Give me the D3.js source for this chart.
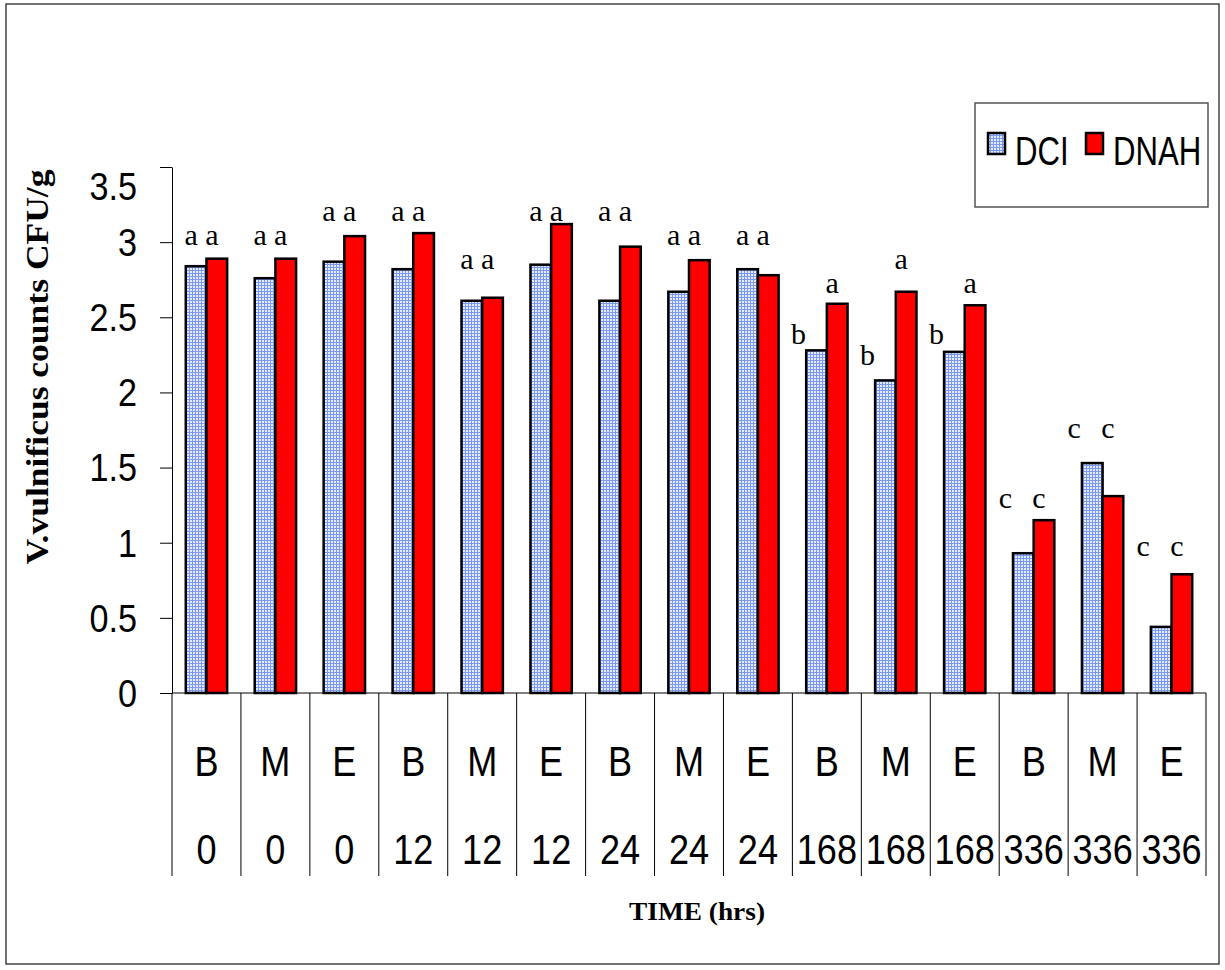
<!DOCTYPE html>
<html>
<head>
<meta charset="utf-8">
<script src="https://cdn.jsdelivr.net/npm/d3@7"></script>
<style>
  body { margin: 0; background: #fff; }
</style>
</head>
<body>
<script>
var fullWidth = 1225
var fullHeight = 970

// data
var phases = ['B', 'M', 'E', 'B', 'M', 'E', 'B', 'M', 'E', 'B', 'M', 'E', 'B', 'M', 'E']
var hours = ['0', '0', '0', '12', '12', '12', '24', '24', '24', '168', '168', '168', '336', '336', '336']
var dci = [2.84, 2.76, 2.87, 2.82, 2.61, 2.85, 2.61, 2.67, 2.82, 2.28, 2.08, 2.27, 0.93, 1.53, 0.44]
var dnah = [2.89, 2.89, 3.04, 3.06, 2.63, 3.12, 2.97, 2.88, 2.78, 2.59, 2.67, 2.58, 1.15, 1.31, 0.79]
var dciLetters = ['a', 'a', 'a', 'a', 'a', 'a', 'a', 'a', 'a', 'b', 'b', 'b', 'c', 'c', 'c']
var dnahLetters = ['a', 'a', 'a', 'a', 'a', 'a', 'a', 'a', 'a', 'a', 'a', 'a', 'c', 'c', 'c']
// height (in y units) where each letter sits
var dciLetterLevel = [3.02, 3.02, 3.18, 3.18, 2.86, 3.18, 3.18, 3.02, 3.02, 2.36, 2.22, 2.36, 1.27, 1.74, 0.95]
var dnahLetterLevel = [3.02, 3.02, 3.18, 3.18, 2.86, 3.18, 3.18, 3.02, 3.02, 2.70, 2.86, 2.70, 1.27, 1.74, 0.95]
var yTicks = [0, 0.5, 1, 1.5, 2, 2.5, 3, 3.5]
var seriesNames = ['DCI', 'DNAH']

var plot = { left: 172, right: 1206, top: 167, bottom: 693 }

var svg = d3
  .select('body')
  .append('svg')
  .attr('xmlns', 'http://www.w3.org/2000/svg')
  .attr('width', fullWidth)
  .attr('height', fullHeight)

// blue grid pattern for the DCI bars
var defs = svg.append('defs')
var pat = defs.append('pattern')
  .attr('id', 'grid')
  .attr('width', 3)
  .attr('height', 3)
  .attr('patternUnits', 'userSpaceOnUse')
pat.append('rect').attr('width', 3).attr('height', 3).attr('fill', '#e4ebff')
pat.append('rect').attr('width', 3).attr('height', 1).attr('fill', '#7b98f2')
pat.append('rect').attr('width', 1).attr('height', 3).attr('fill', '#7b98f2')

// outer frame
svg.append('rect')
  .attr('x', 6).attr('y', 4)
  .attr('width', 1213).attr('height', 960)
  .attr('fill', 'none')
  .attr('stroke', '#444')
  .attr('stroke-width', 1.5)

var idx = d3.range(phases.length)

var x = d3.scaleBand()
  .domain(idx)
  .range([plot.left, plot.right])
  .paddingInner(0.4)
  .paddingOuter(0.2)

var xs = d3.scaleBand()
  .domain(seriesNames)
  .range([0, x.bandwidth()])

var y = d3.scaleLinear()
  .domain([0, 3.5])
  .range([plot.bottom, plot.top])

var labelFont = 'Liberation Sans, Arial, sans-serif'

// y axis
var yAxis = d3.axisLeft(y)
  .tickValues(yTicks)
  .tickFormat(d3.format('~g'))
  .tickSizeInner(12)
  .tickSizeOuter(0)
  .tickPadding(23)

var yG = svg.append('g')
  .attr('transform', 'translate(' + plot.left + ',0)')
  .call(yAxis)
yG.select('.domain').attr('stroke', '#000').attr('stroke-width', 1)
yG.selectAll('.tick line').attr('stroke', '#000').attr('stroke-width', 1)
yG.selectAll('.tick text')
  .attr('fill', '#000')
  .attr('x', null)
  .attr('transform', 'translate(-35,0) scale(0.9,1)')
  .style('font-family', labelFont)
  .style('font-size', '38px')
  .attr('dy', function (d) { return d === 3.5 ? '0.85em' : '0.35em' })

// x axis line and category dividers
var step = x.step()
var x0 = x(0) - step * 0.2
svg.append('line')
  .attr('x1', plot.left).attr('x2', plot.right)
  .attr('y1', plot.bottom).attr('y2', plot.bottom)
  .attr('stroke', '#000').attr('stroke-width', 1)

svg.append('g')
  .selectAll('line')
  .data(d3.range(phases.length + 1))
  .join('line')
  .attr('x1', function (i) { return x0 + i * step })
  .attr('x2', function (i) { return x0 + i * step })
  .attr('y1', plot.bottom)
  .attr('y2', 876)
  .attr('stroke', '#000')
  .attr('stroke-width', 1)

function catLabel(arr, yy) {
  svg.append('g')
    .selectAll('text')
    .data(idx)
    .join('text')
    .attr('transform', function (i) {
      var cx = x(i) + x.bandwidth() / 2
      return 'translate(' + cx + ',' + yy + ') scale(0.84,1)'
    })
    .attr('text-anchor', 'middle')
    .style('font-family', labelFont)
    .style('font-size', '43px')
    .attr('fill', '#000')
    .text(function (i) { return arr[i] })
}
catLabel(phases, 776)
catLabel(hours, 864)

// bars
var barG = svg.append('g')
barG.selectAll('rect.dci')
  .data(idx)
  .join('rect')
  .attr('class', 'dci')
  .attr('x', function (i) { return x(i) + xs('DCI') })
  .attr('width', xs.bandwidth())
  .attr('y', function (i) { return y(dci[i]) })
  .attr('height', function (i) { return y(0) - y(dci[i]) })
  .attr('fill', 'url(#grid)')
  .attr('stroke', '#000')
  .attr('stroke-width', 2.5)

barG.selectAll('rect.dnah')
  .data(idx)
  .join('rect')
  .attr('class', 'dnah')
  .attr('x', function (i) { return x(i) + xs('DNAH') })
  .attr('width', xs.bandwidth())
  .attr('y', function (i) { return y(dnah[i]) })
  .attr('height', function (i) { return y(0) - y(dnah[i]) })
  .attr('fill', '#ff0000')
  .attr('stroke', '#000')
  .attr('stroke-width', 2.5)

// significance letters
var letterFont = 'Liberation Serif, Times New Roman, serif'
function letters(arr, levels, series) {
  svg.append('g')
    .selectAll('text')
    .data(idx)
    .join('text')
    .attr('x', function (i) {
      var off = -5
      if (series === 'DCI' && arr[i] !== 'a') off = -18
      return x(i) + xs(series) + xs.bandwidth() / 2 + off
    })
    .attr('y', function (i) { return y(levels[i]) + 6 })
    .attr('text-anchor', 'middle')
    .style('font-family', letterFont)
    .style('font-size', '30px')
    .attr('fill', '#000')
    .text(function (i) { return arr[i] })
}
letters(dciLetters, dciLetterLevel, 'DCI')
letters(dnahLetters, dnahLetterLevel, 'DNAH')

// axis titles
svg.append('text')
  .attr('transform', 'translate(48,367) rotate(-90)')
  .attr('text-anchor', 'middle')
  .style('font-family', letterFont)
  .style('font-weight', 'bold')
  .style('font-size', '31px')
  .attr('textLength', 395)
  .attr('lengthAdjust', 'spacingAndGlyphs')
  .text('V.vulnificus counts CFU/g')

svg.append('text')
  .attr('x', 697)
  .attr('y', 920)
  .attr('text-anchor', 'middle')
  .style('font-family', letterFont)
  .style('font-weight', 'bold')
  .style('font-size', '25px')
  .attr('textLength', 136)
  .attr('lengthAdjust', 'spacingAndGlyphs')
  .text('TIME (hrs)')

// legend
var leg = svg.append('g')
leg.append('rect')
  .attr('x', 975).attr('y', 103)
  .attr('width', 233).attr('height', 104)
  .attr('fill', '#fff')
  .attr('stroke', '#555')
  .attr('stroke-width', 1.5)

var legItems = [
  { name: seriesNames[0], fill: 'url(#grid)', sx: 988, tx: 1015 },
  { name: seriesNames[1], fill: '#ff0000', sx: 1086, tx: 1113 }
]
legItems.forEach(function (d) {
  leg.append('rect')
    .attr('x', d.sx).attr('y', 133)
    .attr('width', 17).attr('height', 21)
    .attr('fill', d.fill)
    .attr('stroke', '#000')
    .attr('stroke-width', 2.5)
  leg.append('text')
    .attr('transform', 'translate(' + d.tx + ',165) scale(0.76,1)')
    .style('font-family', labelFont)
    .style('font-size', '41px')
    .attr('fill', '#000')
    .text(d.name)
})
</script>
</body>
</html>
